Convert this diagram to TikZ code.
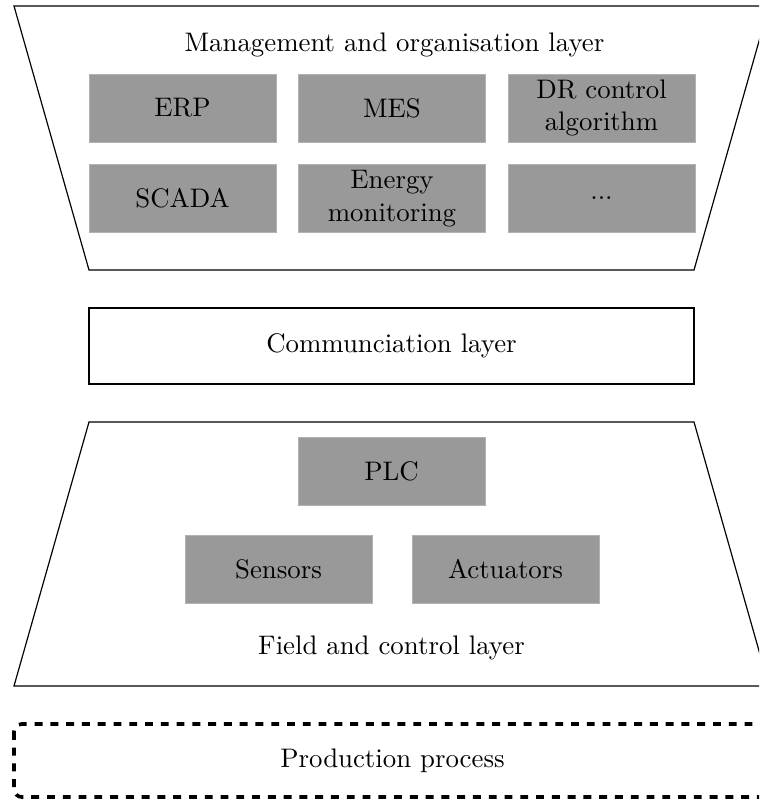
\documentclass[tikz,border=0pt]{standalone}
\usetikzlibrary{positioning}
\begin{document}
\begin{tikzpicture}[x=0.01337cm, y=-0.01337cm,
  font=\fontsize{10.2pt}{12.4pt}\selectfont,
  module/.style={fill=gray!80, draw=gray!60, line width=0.3pt,
    minimum width=2.5cm, minimum height=0.91cm, inner sep=0pt,
    align=center, text width=2.4cm},
  layer/.style={draw=black, line width=0.45pt},
  label/.style={inner sep=0pt, anchor=center}]
  \useasboundingbox (0,0) rectangle (759,801);
  \clip (0,0) rectangle (759,801);

  % management and organisation layer (inverted trapezoid)
  \draw[layer] (14,6) -- (769,6) -- (694,270) -- (89,270) -- cycle;
  \node[label] (mgmt) at (394.5,45) {Management and organisation layer};
  \node[module] (erp)  at (182.5,108) {ERP};
  \node[module] (mes)  at (392,108)   {MES};
  \node[module] (dr)   at (601.5,108) {DR control\\algorithm};
  \node[module] (scada) at (182.5,198.5) {SCADA};
  \node[module] (emon)  at (392,198.5)   {Energy\\monitoring};
  \node[module] (more)  at (601.5,198.5) {...};

  % communication layer
  \node[draw=black, line width=0.45pt, minimum width=605*0.01337cm,
        minimum height=76*0.01337cm, inner sep=0pt] (comm) at (391.5,346)
        {Communciation layer};

  % field and control layer (trapezoid)
  \draw[layer] (89,422) -- (694,422) -- (769,686) -- (14,686) -- cycle;
  \node[module] (plc) at (391.5,471) {PLC};
  \node[module] (sens) at (278.5,569.5) {Sensors};
  \node[module] (act)  at (505.5,569.5) {Actuators};
  \node[label] (field) at (391.5,648) {Field and control layer};

  % production process
  \draw[dashed, line width=1.4pt, rounded corners=3pt] (14,724) rectangle (769,797);
  \node[label] (prod) at (392.5,761) {Production process};
\end{tikzpicture}
\end{document}
